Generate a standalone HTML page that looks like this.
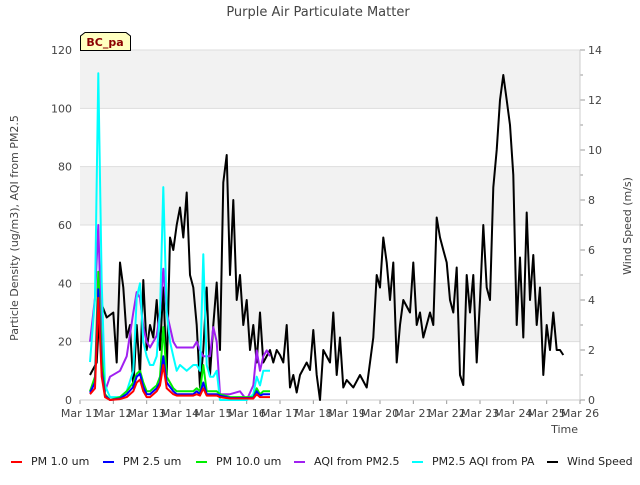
<!DOCTYPE html>
<html><head><meta charset="utf-8"><style>
body{margin:0;background:#fff;font-family:"Liberation Sans","DejaVu Sans",sans-serif}
svg text{font-family:"DejaVu Sans","Liberation Sans",sans-serif}
</style></head><body>
<svg id="c" width="640" height="480" xmlns="http://www.w3.org/2000/svg">
<text x="318" y="16" text-anchor="middle" font-size="13" fill="#444">Purple Air Particulate Matter</text>
<g id="bands"></g>
<g id="axes"></g>
<g id="series"></g>
<g>
<path d="M80.5,50.5 L80.5,36 L85,32.5 L126,32.5 L130.5,36 L130.5,50.5 Z" fill="#ffffc0" stroke="#000"/>
<text x="105" y="46" text-anchor="middle" font-size="11" font-weight="bold" fill="#8b0000">BC_pa</text>
</g>
<text transform="translate(18,228) rotate(-90)" text-anchor="middle" font-size="11" fill="#444">Particle Density (ug/m3), AQI from PM2.5</text>
<text transform="translate(631,226) rotate(-90)" text-anchor="middle" font-size="11" fill="#444">Wind Speed (m/s)</text>
<text x="578" y="433" text-anchor="end" font-size="11" fill="#444">Time</text>
<g id="legend"></g>
</svg>
<script>
const xTicks=["Mar 11","Mar 12","Mar 13","Mar 14","Mar 15","Mar 16","Mar 17","Mar 18","Mar 19","Mar 20","Mar 21","Mar 22","Mar 23","Mar 24","Mar 25","Mar 26"];
const yTicks=[0,20,40,60,80,100,120];
const y2Ticks=[0,2,4,6,8,10,12,14];
const pmDays=[11.3,11.45,11.55,11.65,11.75,11.9,12.2,12.4,12.6,12.7,12.8,12.9,13.0,13.1,13.2,13.3,13.4,13.5,13.6,13.7,13.8,13.9,14.0,14.2,14.4,14.5,14.6,14.7,14.8,14.9,15.0,15.1,15.2,15.5,15.8,16.0,16.2,16.3,16.4,16.5,16.6,16.7];
const pm10=[3,8,44,15,2,0,1,3,6,9,10,6,3,3,4,5,8,25,8,6,4,3,3,3,3,4,3,12,3,3,3,3,2,1,1,1,1,4,2,3,3,3];
const pm25=[2.5,6,38,10,1.5,0,0.5,2,4.5,8,9,4.5,2,2,3,4,6,15,6,4.5,3,2,2,2,2,3,2,6,2,2,2,2,1.5,0.7,0.7,0.7,0.7,3,1.5,2,2,2];
const pm1=[2,4,35,8,1,0,0.3,1,3,6,7,3,1,1,2,3,5,12,4,3,2,1.5,1.5,1.5,1.5,2,1.5,4,1.5,1.5,1.5,1.5,1,0.5,0.5,0.5,0.5,2,1,1,1,1];
const aqi=[20,35,60,20,3,8,10,15,30,37,35,25,20,18,20,22,30,45,30,25,20,18,18,18,18,20,17,15,15,15,25,20,2,2,3,0,5,17,10,15,17,15];
const aqiPA=[13,35,112,40,5,1,1,3,10,35,40,20,15,12,12,15,30,73,30,20,15,10,12,10,12,12,10,50,12,8,8,10,0,0,0,0,2,8,5,10,10,10];
const windDays=[11.3,11.5,11.6,11.8,12.0,12.1,12.2,12.3,12.4,12.5,12.6,12.7,12.8,12.9,13.0,13.1,13.2,13.3,13.4,13.5,13.6,13.7,13.8,13.9,14.0,14.1,14.2,14.3,14.4,14.5,14.6,14.7,14.8,14.9,15.0,15.1,15.2,15.3,15.4,15.5,15.6,15.7,15.8,15.9,16.0,16.1,16.2,16.3,16.4,16.5,16.7,16.8,16.9,17.0,17.1,17.2,17.3,17.4,17.5,17.6,17.8,17.9,18.0,18.1,18.2,18.3,18.5,18.6,18.7,18.8,18.9,19.0,19.2,19.4,19.6,19.8,19.9,20.0,20.1,20.2,20.3,20.4,20.5,20.6,20.7,20.9,21.0,21.1,21.2,21.3,21.5,21.6,21.7,21.8,21.9,22.0,22.1,22.2,22.3,22.4,22.5,22.6,22.7,22.8,22.9,23.0,23.1,23.2,23.3,23.4,23.5,23.6,23.7,23.8,23.9,24.0,24.1,24.2,24.3,24.4,24.5,24.6,24.7,24.8,24.9,25.0,25.1,25.2,25.3,25.4,25.5];
const wind=[1,1.5,4,3.3,3.5,1.5,5.5,4.5,2.5,3,0.5,3,1,4.8,2,3,2.5,4,2,4.5,1,6.5,6,7,7.7,6.5,8.3,5,4.5,3,0.5,2,4.5,1,3,4.7,2,8.7,9.8,5,8,4,5,3,4,2,3,1.5,3.5,1.5,2,1.5,2,1.8,1.5,3,0.5,1,0.3,1,1.5,1.2,2.8,1,0,2,1.5,3.5,1,2.5,0.5,0.8,0.5,1,0.5,2.5,5,4.5,6.5,5.5,4,5.5,1.5,3,4,3.5,5.5,3,3.5,2.5,3.5,3,7.3,6.5,6,5.5,4,3.5,5.3,1,0.6,5,3.5,5,1.5,4,7,4.5,4,8.5,10,12,13,12,11,9,3,5.7,2.5,7.5,4,5.8,3,4.5,1,3,2,3.5,2,2,1.8];

const NS="http://www.w3.org/2000/svg";
const L=80,R=580,T=50,B=400;
const xs=d=>L+(d-11)/15*(R-L);
const ys=v=>B-v/120*(B-T);
const ys2=v=>B-v/14*(B-T);
function mk(tag,attrs,parent,text){const e=document.createElementNS(NS,tag);for(const k in attrs)e.setAttribute(k,attrs[k]);if(text!==undefined)e.textContent=text;parent.appendChild(e);return e;}
const bands=document.getElementById('bands'),axes=document.getElementById('axes'),series=document.getElementById('series'),legend=document.getElementById('legend');
mk('rect',{x:L,y:T,width:R-L,height:B-T,fill:'#fff'},bands);
for(let i=0;i<yTicks.length-1;i++){
  if(i%2===1){const r=mk('rect',{x:L,y:ys(yTicks[i+1]),width:R-L,height:ys(yTicks[i])-ys(yTicks[i+1]),fill:'#f2f2f2'},bands);
  
  }
}
yTicks.forEach(v=>{
  mk('line',{x1:L,x2:R,y1:ys(v),y2:ys(v),stroke:'#ddd'},bands);
  const t=mk('text',{x:L-8,y:ys(v)+4,'text-anchor':'end','font-size':11,fill:'#444'},axes,String(v));
  
  
});
y2Ticks.forEach((v,i)=>{
  mk('line',{x1:R,x2:R+5,y1:ys2(v),y2:ys2(v),stroke:'#999'},axes);
  if(i<y2Ticks.length-1) mk('line',{x1:R,x2:R+3,y1:ys2(v+1),y2:ys2(v+1),stroke:'#999'},axes);
  const t=mk('text',{x:R+8,y:ys2(v)+4,'font-size':11,fill:'#444'},axes,String(v));
  
  
});
xTicks.forEach((s,i)=>{
  const x=xs(11+i);
  mk('line',{x1:x,x2:x,y1:B,y2:B+4,stroke:'#999'},axes);
  const t=mk('text',{x:x,y:B+17,'text-anchor':'middle','font-size':11,fill:'#444'},axes,s);
  
  
});
mk('line',{x1:L,x2:R,y1:B,y2:B,stroke:'#ccc'},axes);
mk('line',{x1:R,x2:R,y1:T,y2:B,stroke:'#ccc'},axes);
function line(days,vals,sc,color,name){
  const d=days.map((dd,i)=>(i?'L':'M')+xs(dd).toFixed(1)+','+sc(vals[i]).toFixed(1)).join('');
  const p=mk('path',{d:d,fill:'none',stroke:color,'stroke-width':2,'stroke-linejoin':'round'},series);
  
  
}
line(windDays,wind,ys2,'#000','wind-speed-line');
line(pmDays,aqi,ys,'#a020f0','aqi-pm25-line');
line(pmDays,aqiPA,ys,'#00ffff','pm25-aqi-pa-line');
line(pmDays,pm10,ys,'#00ee00','pm10-line');
line(pmDays,pm25,ys,'#0000ff','pm25-line');
line(pmDays,pm1,ys,'#ff0000','pm1-line');
const legNames=["PM 1.0 um","PM 2.5 um","PM 10.0 um","AQI from PM2.5","PM2.5 AQI from PA","Wind Speed"];
const legColors=['#ff0000','#0000ff','#00ee00','#a020f0','#00ffff','#000'];
const legX=[11,103,196,294,412,547];
legNames.forEach((n,i)=>{
  const g=mk('g',{},legend);
  
  
  mk('line',{x1:legX[i],x2:legX[i]+11,y1:462,y2:462,stroke:legColors[i],'stroke-width':2},g);
  mk('text',{x:legX[i]+20,y:465,'font-size':11,fill:'#222'},g,n);
});
</script>
</body></html>
